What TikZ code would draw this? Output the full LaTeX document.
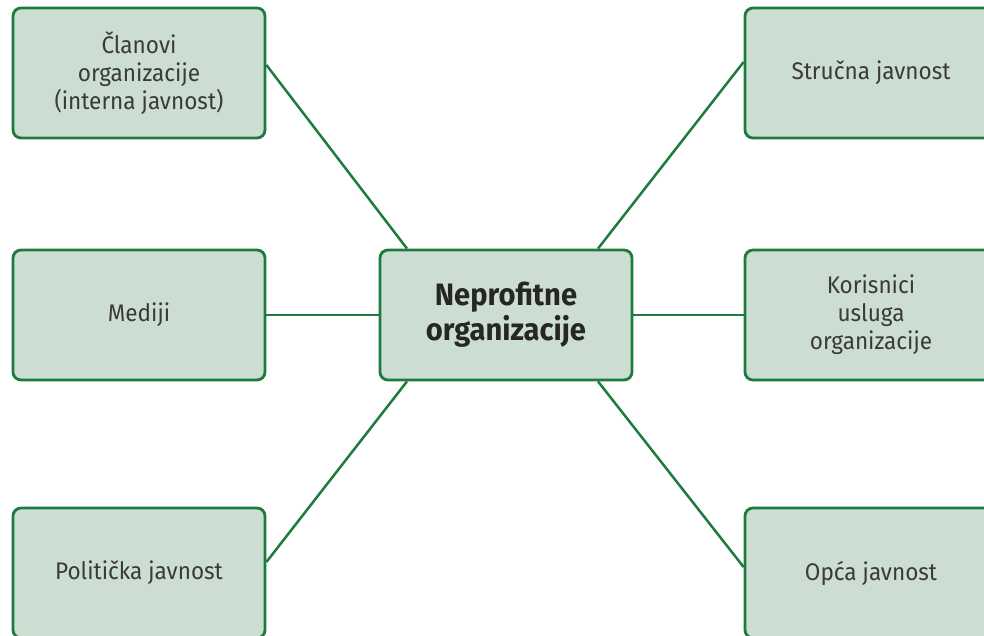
\documentclass[tikz,border=0pt]{standalone}
\usepackage{fontspec}
\setmainfont{Fira Sans}[FakeStretch=0.94]
\definecolor{boxfill}{HTML}{CCDDD1}
\definecolor{boxline}{HTML}{1E7A3E}
\definecolor{txt}{HTML}{3A3A3A}
\begin{document}
\begin{tikzpicture}[x=1pt,y=-1pt,
  box/.style={draw=boxline, line width=2.8pt, fill=boxfill, rounded corners=8pt,
    minimum width=252pt, minimum height=130pt, align=center, text=txt,
    font=\fontsize{24}{28}\selectfont, inner sep=0pt},
  link/.style={draw=boxline, line width=2.5pt}]
\useasboundingbox (0,0) rectangle (984,635);
\node[box] (tl) at (139,73) {Članovi\\organizacije\\(interna javnost)};
\node[box] (ml) at (139,315) {Mediji};
\node[box] (bl) at (139,573) {Politička javnost};
\node[box, font=\bfseries\fontsize{31}{35}\selectfont, text=black!85] (c) at (506,315) {Neprofitne\\organizacije};
\node[box] (tr) at (871,73) {Stručna javnost};
\node[box] (mr) at (871,315) {Korisnici\\usluga\\organizacije};
\node[box] (br) at (871,573) {Opća javnost};
\draw[link] ([yshift=8pt]tl.east) -- ([xshift=-99pt]c.north);
\draw[link] ([yshift=11pt]tr.west) -- ([xshift=92pt]c.north);
\draw[link] ([yshift=11pt]bl.east) -- ([xshift=-99pt]c.south);
\draw[link] ([yshift=6pt]br.west) -- ([xshift=92pt]c.south);
\draw[link] (ml.east) -- (c.west);
\draw[link] (c.east) -- (mr.west);
\end{tikzpicture}
\end{document}
